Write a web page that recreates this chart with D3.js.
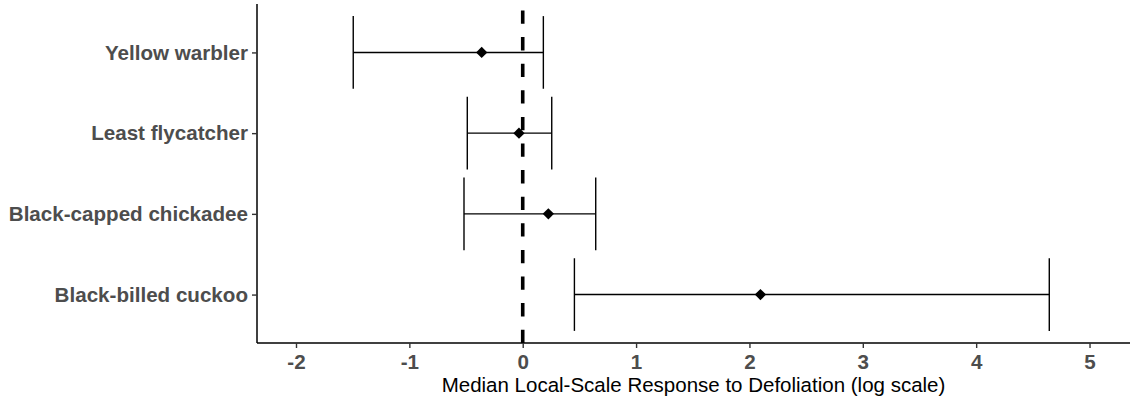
<!DOCTYPE html>
<html>
<head>
<meta charset="utf-8">
<script src="https://cdn.jsdelivr.net/npm/d3@7"></script>
<style>
  html, body { margin: 0; padding: 0; background: #fff; }
  svg { display: block; }
</style>
</head>
<body>
<svg id="chart" width="1130" height="400"></svg>
<script>
// Data (top-to-bottom order as displayed)
const species = ["Yellow warbler", "Least flycatcher", "Black-capped chickadee", "Black-billed cuckoo"];
const medians = [-0.362, -0.033, 0.226, 2.097];
const lowers  = [-1.495, -0.489, -0.518, 0.456];
const uppers  = [0.182, 0.256, 0.644, 4.645];
const xTicks  = [-2, -1, 0, 1, 2, 3, 4, 5];
const xDomain = [-2.344, 5.357];
const refLine = 0;
const xTitle = "Median Local-Scale Response to Defoliation (log scale)";

(function () {
const svg = d3.select("#chart");
const pLeft = 257, pRight = 1130, pTop = 4, pBottom = 343;

const x = d3.scaleLinear().domain(xDomain).range([pLeft, pRight]);
const y = d3.scalePoint().domain(species).range([pTop, pBottom]).padding(0.6);
const capHalf = y.step() * 0.45;

const rows = species.map((s, i) => ({ s, m: medians[i], lo: lowers[i], hi: uppers[i] }));

// reference dashed line
svg.append("line")
  .attr("x1", x(refLine)).attr("x2", x(refLine))
  .attr("y1", pBottom).attr("y2", pTop)
  .attr("stroke", "#000").attr("stroke-width", 3.6)
  .attr("stroke-dasharray", "13.3 13.3");

// error bars
const g = svg.append("g").attr("stroke", "#000").attr("stroke-width", 1.4);
rows.forEach(d => {
  g.append("line").attr("x1", x(d.lo)).attr("x2", x(d.hi)).attr("y1", y(d.s)).attr("y2", y(d.s));
  g.append("line").attr("x1", x(d.lo)).attr("x2", x(d.lo)).attr("y1", y(d.s) - capHalf).attr("y2", y(d.s) + capHalf);
  g.append("line").attr("x1", x(d.hi)).attr("x2", x(d.hi)).attr("y1", y(d.s) - capHalf).attr("y2", y(d.s) + capHalf);
});

// diamonds
svg.append("g").selectAll("path").data(rows).join("path")
  .attr("transform", d => `translate(${x(d.m)},${y(d.s)}) rotate(45)`)
  .attr("d", "M-4,-4H4V4H-4Z")
  .attr("fill", "#000");

// x axis
const xAxis = svg.append("g").attr("transform", `translate(0,${pBottom})`)
  .call(d3.axisBottom(x).tickValues(xTicks).tickSize(5).tickPadding(6).tickFormat(d3.format("d")));
xAxis.select(".domain").attr("stroke", "#000").attr("stroke-width", 1.5).attr("d", `M${pLeft},0H${pRight}`);
xAxis.selectAll(".tick line").attr("stroke", "#333").attr("stroke-width", 1.4);
xAxis.selectAll(".tick text")
  .attr("fill", "#4d4d4d").style("font-family", "Liberation Sans, Arial, sans-serif")
  .style("font-size", "20.6px").style("font-weight", "bold")
  .text(d => d < 0 ? "-" + Math.abs(d) : d);

// y axis
const yAxis = svg.append("g").attr("transform", `translate(${pLeft},0)`)
  .call(d3.axisLeft(y).tickSize(5).tickPadding(4));
yAxis.select(".domain").attr("stroke", "#000").attr("stroke-width", 1.5).attr("d", `M0,${pTop}V${pBottom}`);
yAxis.selectAll(".tick line").attr("stroke", "#333").attr("stroke-width", 1.4);
yAxis.selectAll(".tick text")
  .attr("fill", "#4d4d4d").style("font-family", "Liberation Sans, Arial, sans-serif")
  .style("font-size", "20.6px").style("font-weight", "bold");

// x title
svg.append("text")
  .attr("x", (pLeft + pRight) / 2).attr("y", 392)
  .attr("text-anchor", "middle")
  .style("font-family", "Liberation Sans, Arial, sans-serif")
  .style("font-size", "20.5px").attr("fill", "#000")
  .text(xTitle);
})();
</script>
</body>
</html>
